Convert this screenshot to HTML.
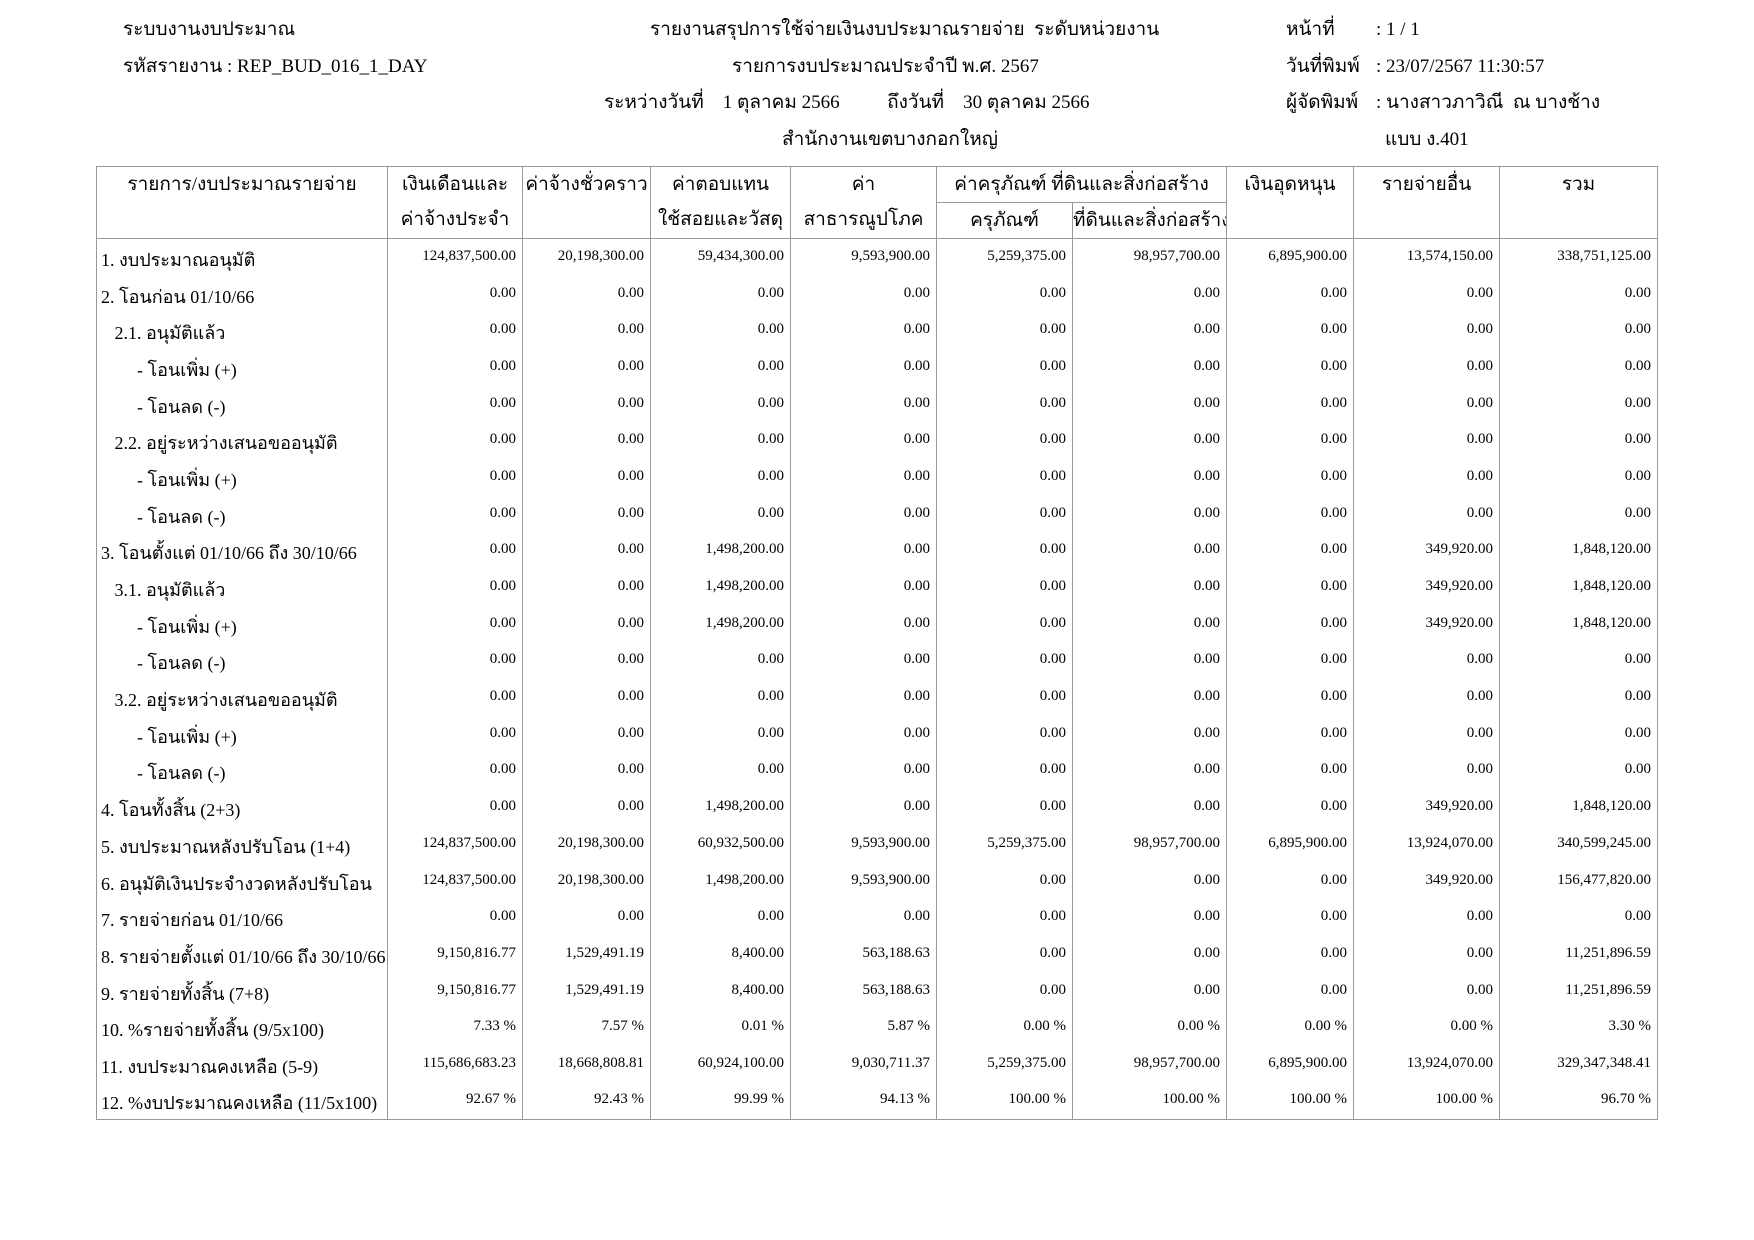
<!DOCTYPE html>
<html><head><meta charset="utf-8"><style>
body{margin:0;background:#fff;width:1754px;height:1240px;position:relative;overflow:hidden;font-family:"Liberation Serif",serif;color:#000}
.t{position:absolute;font-size:19px;white-space:pre;line-height:24px}
table{position:absolute;left:96px;top:166px;border-collapse:collapse;table-layout:fixed;width:1561px}
td{border-left:1px solid #999;border-right:1px solid #999;padding:0;overflow:hidden;white-space:nowrap}
thead td{border:1px solid #999;font-size:19px;text-align:center;vertical-align:top;line-height:35px}
tbody tr{height:36.7px}
tbody td{height:32px;line-height:20px;font-size:15px;text-align:right;padding:0 6px 2px 0;vertical-align:middle}
tbody td:first-child{font-size:18px;text-align:left;padding:6px 0 0 4px;height:28px}
tbody tr:last-child td{border-bottom:1px solid #999}
</style></head><body>
<div class="t" style="left:123px;top:18px">ระบบงานงบประมาณ</div>
<div class="t" style="left:123px;top:55px">รหัสรายงาน : REP_BUD_016_1_DAY</div>
<div class="t" style="left:650px;top:18px">รายงานสรุปการใช้จ่ายเงินงบประมาณรายจ่าย  ระดับหน่วยงาน</div>
<div class="t" style="left:732px;top:55px">รายการงบประมาณประจำปี พ.ศ. 2567</div>
<div class="t" style="left:604px;top:91px">ระหว่างวันที่    1 ตุลาคม 2566          ถึงวันที่    30 ตุลาคม 2566</div>
<div class="t" style="left:782px;top:128px">สำนักงานเขตบางกอกใหญ่</div>
<div class="t" style="left:1286px;top:18px">หน้าที่</div>
<div class="t" style="left:1376px;top:18px">: 1 / 1</div>
<div class="t" style="left:1286px;top:55px">วันที่พิมพ์</div>
<div class="t" style="left:1376px;top:55px">: 23/07/2567 11:30:57</div>
<div class="t" style="left:1286px;top:91px">ผู้จัดพิมพ์</div>
<div class="t" style="left:1376px;top:91px">: นางสาวภาวิณี  ณ บางช้าง</div>
<div class="t" style="left:1385px;top:128px">แบบ ง.401</div>
<table>
<colgroup><col style="width:291px"><col style="width:135px"><col style="width:128px"><col style="width:140px"><col style="width:146px"><col style="width:136px"><col style="width:154px"><col style="width:127px"><col style="width:146px"><col style="width:158px"></colgroup>
<thead>
<tr><td rowspan="2">รายการ/งบประมาณรายจ่าย</td><td rowspan="2">เงินเดือนและ<br>ค่าจ้างประจำ</td><td rowspan="2">ค่าจ้างชั่วคราว</td><td rowspan="2">ค่าตอบแทน<br>ใช้สอยและวัสดุ</td><td rowspan="2">ค่า<br>สาธารณูปโภค</td><td colspan="2">ค่าครุภัณฑ์ ที่ดินและสิ่งก่อสร้าง</td><td rowspan="2">เงินอุดหนุน</td><td rowspan="2">รายจ่ายอื่น</td><td rowspan="2">รวม</td></tr>
<tr><td>ครุภัณฑ์</td><td>ที่ดินและสิ่งก่อสร้าง</td></tr>
</thead>
<tbody>
<tr><td>1. งบประมาณอนุมัติ</td><td>124,837,500.00</td><td>20,198,300.00</td><td>59,434,300.00</td><td>9,593,900.00</td><td>5,259,375.00</td><td>98,957,700.00</td><td>6,895,900.00</td><td>13,574,150.00</td><td>338,751,125.00</td></tr>
<tr><td>2. โอนก่อน 01/10/66</td><td>0.00</td><td>0.00</td><td>0.00</td><td>0.00</td><td>0.00</td><td>0.00</td><td>0.00</td><td>0.00</td><td>0.00</td></tr>
<tr><td>&nbsp;&nbsp;&nbsp;2.1. อนุมัติแล้ว</td><td>0.00</td><td>0.00</td><td>0.00</td><td>0.00</td><td>0.00</td><td>0.00</td><td>0.00</td><td>0.00</td><td>0.00</td></tr>
<tr><td>&nbsp;&nbsp;&nbsp;&nbsp;&nbsp;&nbsp;&nbsp;&nbsp;- โอนเพิ่ม (+)</td><td>0.00</td><td>0.00</td><td>0.00</td><td>0.00</td><td>0.00</td><td>0.00</td><td>0.00</td><td>0.00</td><td>0.00</td></tr>
<tr><td>&nbsp;&nbsp;&nbsp;&nbsp;&nbsp;&nbsp;&nbsp;&nbsp;- โอนลด (-)</td><td>0.00</td><td>0.00</td><td>0.00</td><td>0.00</td><td>0.00</td><td>0.00</td><td>0.00</td><td>0.00</td><td>0.00</td></tr>
<tr><td>&nbsp;&nbsp;&nbsp;2.2. อยู่ระหว่างเสนอขออนุมัติ</td><td>0.00</td><td>0.00</td><td>0.00</td><td>0.00</td><td>0.00</td><td>0.00</td><td>0.00</td><td>0.00</td><td>0.00</td></tr>
<tr><td>&nbsp;&nbsp;&nbsp;&nbsp;&nbsp;&nbsp;&nbsp;&nbsp;- โอนเพิ่ม (+)</td><td>0.00</td><td>0.00</td><td>0.00</td><td>0.00</td><td>0.00</td><td>0.00</td><td>0.00</td><td>0.00</td><td>0.00</td></tr>
<tr><td>&nbsp;&nbsp;&nbsp;&nbsp;&nbsp;&nbsp;&nbsp;&nbsp;- โอนลด (-)</td><td>0.00</td><td>0.00</td><td>0.00</td><td>0.00</td><td>0.00</td><td>0.00</td><td>0.00</td><td>0.00</td><td>0.00</td></tr>
<tr><td>3. โอนตั้งแต่ 01/10/66 ถึง 30/10/66</td><td>0.00</td><td>0.00</td><td>1,498,200.00</td><td>0.00</td><td>0.00</td><td>0.00</td><td>0.00</td><td>349,920.00</td><td>1,848,120.00</td></tr>
<tr><td>&nbsp;&nbsp;&nbsp;3.1. อนุมัติแล้ว</td><td>0.00</td><td>0.00</td><td>1,498,200.00</td><td>0.00</td><td>0.00</td><td>0.00</td><td>0.00</td><td>349,920.00</td><td>1,848,120.00</td></tr>
<tr><td>&nbsp;&nbsp;&nbsp;&nbsp;&nbsp;&nbsp;&nbsp;&nbsp;- โอนเพิ่ม (+)</td><td>0.00</td><td>0.00</td><td>1,498,200.00</td><td>0.00</td><td>0.00</td><td>0.00</td><td>0.00</td><td>349,920.00</td><td>1,848,120.00</td></tr>
<tr><td>&nbsp;&nbsp;&nbsp;&nbsp;&nbsp;&nbsp;&nbsp;&nbsp;- โอนลด (-)</td><td>0.00</td><td>0.00</td><td>0.00</td><td>0.00</td><td>0.00</td><td>0.00</td><td>0.00</td><td>0.00</td><td>0.00</td></tr>
<tr><td>&nbsp;&nbsp;&nbsp;3.2. อยู่ระหว่างเสนอขออนุมัติ</td><td>0.00</td><td>0.00</td><td>0.00</td><td>0.00</td><td>0.00</td><td>0.00</td><td>0.00</td><td>0.00</td><td>0.00</td></tr>
<tr><td>&nbsp;&nbsp;&nbsp;&nbsp;&nbsp;&nbsp;&nbsp;&nbsp;- โอนเพิ่ม (+)</td><td>0.00</td><td>0.00</td><td>0.00</td><td>0.00</td><td>0.00</td><td>0.00</td><td>0.00</td><td>0.00</td><td>0.00</td></tr>
<tr><td>&nbsp;&nbsp;&nbsp;&nbsp;&nbsp;&nbsp;&nbsp;&nbsp;- โอนลด (-)</td><td>0.00</td><td>0.00</td><td>0.00</td><td>0.00</td><td>0.00</td><td>0.00</td><td>0.00</td><td>0.00</td><td>0.00</td></tr>
<tr><td>4. โอนทั้งสิ้น (2+3)</td><td>0.00</td><td>0.00</td><td>1,498,200.00</td><td>0.00</td><td>0.00</td><td>0.00</td><td>0.00</td><td>349,920.00</td><td>1,848,120.00</td></tr>
<tr><td>5. งบประมาณหลังปรับโอน (1+4)</td><td>124,837,500.00</td><td>20,198,300.00</td><td>60,932,500.00</td><td>9,593,900.00</td><td>5,259,375.00</td><td>98,957,700.00</td><td>6,895,900.00</td><td>13,924,070.00</td><td>340,599,245.00</td></tr>
<tr><td>6. อนุมัติเงินประจำงวดหลังปรับโอน</td><td>124,837,500.00</td><td>20,198,300.00</td><td>1,498,200.00</td><td>9,593,900.00</td><td>0.00</td><td>0.00</td><td>0.00</td><td>349,920.00</td><td>156,477,820.00</td></tr>
<tr><td>7. รายจ่ายก่อน 01/10/66</td><td>0.00</td><td>0.00</td><td>0.00</td><td>0.00</td><td>0.00</td><td>0.00</td><td>0.00</td><td>0.00</td><td>0.00</td></tr>
<tr><td>8. รายจ่ายตั้งแต่ 01/10/66 ถึง 30/10/66</td><td>9,150,816.77</td><td>1,529,491.19</td><td>8,400.00</td><td>563,188.63</td><td>0.00</td><td>0.00</td><td>0.00</td><td>0.00</td><td>11,251,896.59</td></tr>
<tr><td>9. รายจ่ายทั้งสิ้น (7+8)</td><td>9,150,816.77</td><td>1,529,491.19</td><td>8,400.00</td><td>563,188.63</td><td>0.00</td><td>0.00</td><td>0.00</td><td>0.00</td><td>11,251,896.59</td></tr>
<tr><td>10. %รายจ่ายทั้งสิ้น (9/5x100)</td><td>7.33 %</td><td>7.57 %</td><td>0.01 %</td><td>5.87 %</td><td>0.00 %</td><td>0.00 %</td><td>0.00 %</td><td>0.00 %</td><td>3.30 %</td></tr>
<tr><td>11. งบประมาณคงเหลือ (5-9)</td><td>115,686,683.23</td><td>18,668,808.81</td><td>60,924,100.00</td><td>9,030,711.37</td><td>5,259,375.00</td><td>98,957,700.00</td><td>6,895,900.00</td><td>13,924,070.00</td><td>329,347,348.41</td></tr>
<tr><td>12. %งบประมาณคงเหลือ (11/5x100)</td><td>92.67 %</td><td>92.43 %</td><td>99.99 %</td><td>94.13 %</td><td>100.00 %</td><td>100.00 %</td><td>100.00 %</td><td>100.00 %</td><td>96.70 %</td></tr>
</tbody>
</table>
</body></html>
